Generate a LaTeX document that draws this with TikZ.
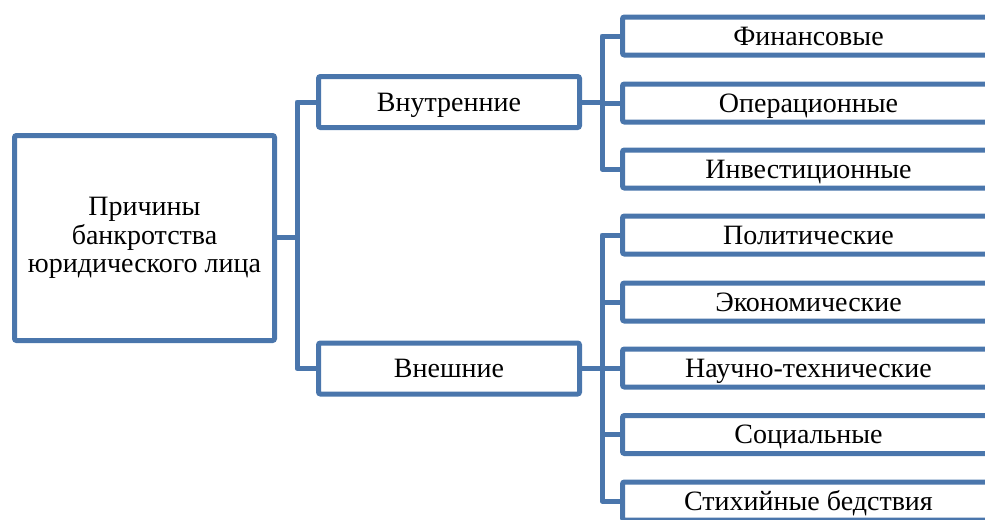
\documentclass[tikz,border=0pt]{standalone}
\usepackage{fontspec}
\setmainfont{Liberation Serif}
\definecolor{smartblue}{HTML}{4A76AC}

\begin{document}
\begin{tikzpicture}[
    x=0.75pt, y=-0.75pt,
    base/.style={draw=smartblue, line width=3.75pt, rounded corners=1.5pt, fill=white, align=center, inner sep=0pt, font=\fontsize{21}{21.5}\selectfont},
    rootbox/.style={base, minimum width=195pt, minimum height=153.75pt},
    groupbox/.style={base, minimum width=195.75pt, minimum height=38.25pt, text height=13.9pt, text depth=0pt},
    leafbox/.style={base, minimum width=279pt, minimum height=28.5pt, text height=13.9pt, text depth=0pt},
    link/.style={draw=smartblue, line width=3.75pt, line join=round}
]
    \clip (0,0) rectangle (985,519);

    \node[rootbox] (root) at (144.5,238) {Причины\\банкротства\\юридического лица};
    \node[groupbox] (inner) at (449,102) {Внутренние};
    \node[groupbox] (outer) at (449,368.5) {Внешние};

    \node[leafbox] (fin) at (808.5,36) {Финансовые};
    \node[leafbox] (oper) at (808.5,103) {Операционные};
    \node[leafbox] (inv) at (808.5,169) {Инвестиционные};

    \node[leafbox] (pol) at (808.5,235) {Политические};
    \node[leafbox] (econ) at (808.5,302) {Экономические};
    \node[leafbox] (tech) at (808.5,368) {Научно-технические};
    \node[leafbox] (soc) at (808.5,434.5) {Социальные};
    \node[leafbox] (nat) at (808.5,501) {Стихийные бедствия};

    % connectors
    \coordinate (j0) at (297,237);
    \coordinate (j1) at (602,102);
    \coordinate (j2) at (602,368.5);

    \draw[link] (root.east |- j0) -- (j0);
    \draw[link] (j0) |- (inner.west);
    \draw[link] (j0) |- (outer.west);

    \draw[link] (inner.east) -- (j1);
    \draw[link] (j1) |- (fin.west);
    \draw[link] (j1) |- (oper.west);
    \draw[link] (j1) |- (inv.west);

    \draw[link] (outer.east) -- (j2);
    \draw[link] (j2) |- (pol.west);
    \draw[link] (j2) |- (econ.west);
    \draw[link] (j2) |- (tech.west);
    \draw[link] (j2) |- (soc.west);
    \draw[link] (j2) |- (nat.west);
\end{tikzpicture}
\end{document}
